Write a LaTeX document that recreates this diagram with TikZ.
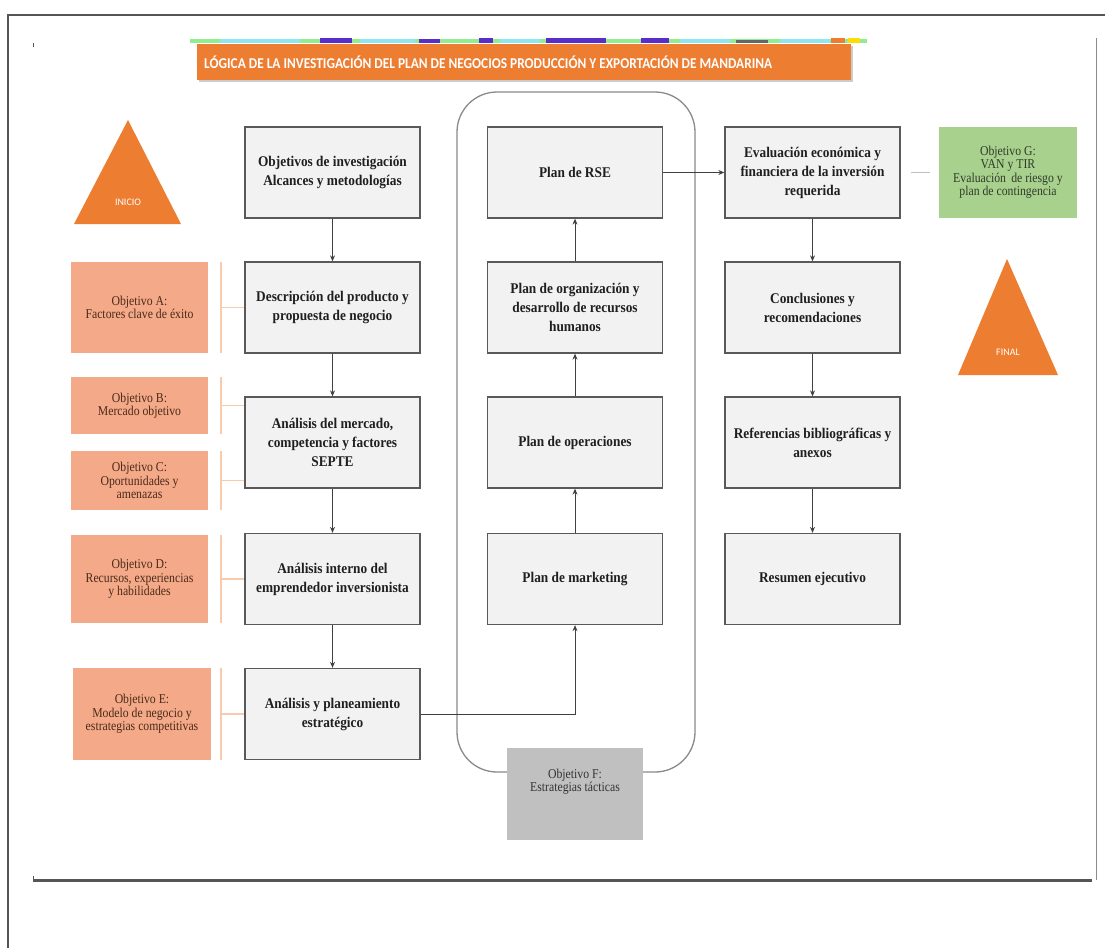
\documentclass[tikz,border=0pt]{standalone}
\usepackage{fontspec}
\setmainfont{Liberation Serif}
\newfontfamily\boxfont[FakeStretch=0.9]{Liberation Serif}
\newfontfamily\objfont[FakeStretch=0.87]{Liberation Serif}
\newfontfamily\titlefont{Carlito}
\usetikzlibrary{arrows.meta,calc}

\definecolor{accent}{HTML}{ED7D31}
\definecolor{boxfill}{HTML}{F2F2F2}
\definecolor{boxline}{HTML}{595959}
\definecolor{objorange}{HTML}{F4AA88}
\definecolor{objtext}{HTML}{4A2A1A}
\definecolor{objlinkc}{HTML}{F8CBAD}
\definecolor{greenfill}{HTML}{A9D18E}
\definecolor{greentext}{HTML}{2F3B2A}
\definecolor{ffill}{HTML}{C0C0C0}
\definecolor{framec}{HTML}{555555}
\definecolor{holder}{HTML}{8A8A8A}
\definecolor{stripgreen}{HTML}{90EE90}
\definecolor{stripcyan}{HTML}{8EE6F0}
\definecolor{strippurple}{HTML}{5A2DC8}

\tikzset{
  stepbox/.style={draw=boxline, fill=boxfill, line width=1.3pt,
    minimum width=175pt, minimum height=91pt, inner sep=2pt, align=center,
    text=black!88, font=\boxfont\bfseries\fontsize{14.8}{19}\selectfont},
  objbox/.style={fill=objorange, minimum width=137pt, inner sep=2pt,
    align=center, text=objtext, font=\objfont\fontsize{13.5}{13.5}\selectfont},
  goalbox/.style={fill=greenfill, minimum width=138pt, minimum height=91pt,
    inner sep=2pt, align=center, text=greentext,
    font=\objfont\fontsize{13.5}{13.5}\selectfont},
  tacticbox/.style={fill=ffill, minimum width=136pt, minimum height=92pt,
    inner sep=2pt, align=center, text=black!80,
    font=\objfont\fontsize{13.5}{13.5}\selectfont},
  flow/.style={draw=black!75, line width=0.9pt,
    -{Stealth[length=6pt,width=5pt]}},
  objlink/.style={draw=objlinkc, line width=1.4pt},
  goallink/.style={draw=black!25, line width=1.2pt},
  marker/.style={text=white, font=\titlefont\fontsize{10}{10}\selectfont},
}

\begin{document}
\begin{tikzpicture}[x=1pt,y=-1pt]
\useasboundingbox (0,0) rectangle (1105,948);
\fill[white] (0,0) rectangle (1105,948);

% page frame and inner picture borders
\draw[framec, line width=1.3pt] (8,948) -- (8,15) -- (1105,15);
\draw[black!45, line width=1pt] (1096,38) -- (1096,880);
\draw[framec, line width=3pt] (34,880) -- (1092,880);
\draw[framec, line width=1pt] (33,43) -- (33,47);
\draw[framec, line width=1pt] (33,876) -- (33,882);

% thin coloured band above the title
\fill[stripgreen] (190,38.5) rectangle (867,42.5);
\fill[stripcyan] (220,38.5) rectangle (300,42.5);
\fill[stripcyan] (360,38.5) rectangle (415,42.5);
\fill[stripcyan] (500,38.5) rectangle (540,42.5);
\fill[stripcyan] (680,38.5) rectangle (730,42.5);
\fill[stripcyan] (780,38.5) rectangle (830,42.5);
\fill[strippurple] (320,38) rectangle (352,42.5);
\fill[strippurple] (419,38.5) rectangle (440,42.5);
\fill[strippurple] (479,38) rectangle (493,42.5);
\fill[strippurple] (546,38) rectangle (606,42.5);
\fill[strippurple] (641,38) rectangle (669,42.5);
\fill[black!60] (736,40) rectangle (768,42.5);
\fill[accent] (831,37.5) rectangle (845,42.5);
\fill[yellow!80!orange] (848,37.5) rectangle (860,42.5);

% title bar
\fill[black!20] (199,46) rectangle (853,82);
\fill[accent] (197,44) rectangle (851,80);
\node[anchor=west, text=white, inner sep=0pt] (title) at (204,62)
  {\titlefont\bfseries\fontsize{15}{15}\selectfont\resizebox{568pt}{\height}{LÓGICA DE LA INVESTIGACIÓN DEL PLAN DE NEGOCIOS PRODUCCIÓN Y EXPORTACIÓN DE MANDARINA}};

% start and end markers
\fill[accent] (74,224) -- (128,120) -- (181,224) -- cycle;
\node[marker] (inicio) at (128,202) {INICIO};
\fill[accent] (958,375) -- (1007,259) -- (1058,375) -- cycle;
\node[marker] (final) at (1008,352) {FINAL};

% container of the tactical plans
\draw[holder, line width=1.3pt, rounded corners=40pt] (457,92) rectangle (695,772);

% left column
\node[stepbox] (b1) at (332.5,172.5) {Objetivos de investigación\\Alcances y metodologías};
\node[stepbox] (b2) at (332.5,307.5) {Descripción del producto y\\propuesta de negocio};
\node[stepbox] (b3) at (332.5,442.5) {Análisis del mercado,\\competencia y factores\\SEPTE};
\node[stepbox] (b4) at (332.5,579) {Análisis interno del\\emprendedor inversionista};
\node[stepbox] (b5) at (332.5,714) {Análisis y planeamiento\\estratégico};

% middle column
\node[stepbox] (m1) at (575,172.5) {Plan de RSE};
\node[stepbox] (m2) at (575,307.5) {Plan de organización y\\desarrollo de recursos\\humanos};
\node[stepbox] (m3) at (575,442.5) {Plan de operaciones};
\node[stepbox] (m4) at (575,579) {Plan de marketing};

% right column
\node[stepbox] (r1) at (812.5,172.5) {Evaluación económica y\\financiera de la inversión\\requerida};
\node[stepbox] (r2) at (812.5,307.5) {Conclusiones y\\recomendaciones};
\node[stepbox] (r3) at (812.5,442.5) {Referencias bibliográficas y\\anexos};
\node[stepbox] (r4) at (812.5,579) {Resumen ejecutivo};

% objectives
\node[objbox, minimum height=91pt] (oA) at (139.5,307.5) {Objetivo A:\\Factores clave de éxito};
\node[objbox, minimum height=57pt] (oB) at (139.5,405.5) {Objetivo B:\\Mercado objetivo};
\node[objbox, minimum height=59pt] (oC) at (139.5,480.5) {Objetivo C:\\Oportunidades y\\amenazas};
\node[objbox, minimum height=88pt] (oD) at (139.5,579) {Objetivo D:\\Recursos, experiencias\\y habilidades};
\node[objbox, minimum height=92pt, minimum width=138pt] (oE) at (142,714) {Objetivo E:\\Modelo de negocio y\\estrategias competitivas};
\node[tacticbox] (oF) at (575,794) {Objetivo F:\\Estrategias tácticas\\[14pt]};
\node[goalbox] (oG) at (1008,172.5) {Objetivo G:\\VAN y TIR\\Evaluación\, de riesgo y\\plan de contingencia};

% objective brackets
\foreach \o/\b in {oA/b2, oB/b3, oC/b3, oD/b4, oE/b5}{
  \draw[objlink] (\o.north east -| 221,0) -- (\o.south east -| 221,0);
  \draw[objlink] (\o.east -| 221,0) -- (\o.east -| \b.west);
}

% flow
\draw[flow] (b1) -- (b2);
\draw[flow] (b2) -- (b3);
\draw[flow] (b3) -- (b4);
\draw[flow] (b4) -- (b5);
\draw[flow] (b5.east) -| (m4.south);
\draw[flow] (m4) -- (m3);
\draw[flow] (m3) -- (m2);
\draw[flow] (m2) -- (m1);
\draw[flow] (m1) -- (r1);
\draw[flow] (r1) -- (r2);
\draw[flow] (r2) -- (r3);
\draw[flow] (r3) -- (r4);
\draw[goallink] ($(r1.east)+(10,0)$) -- ($(oG.west)+(-9,0)$);
\end{tikzpicture}
\end{document}
